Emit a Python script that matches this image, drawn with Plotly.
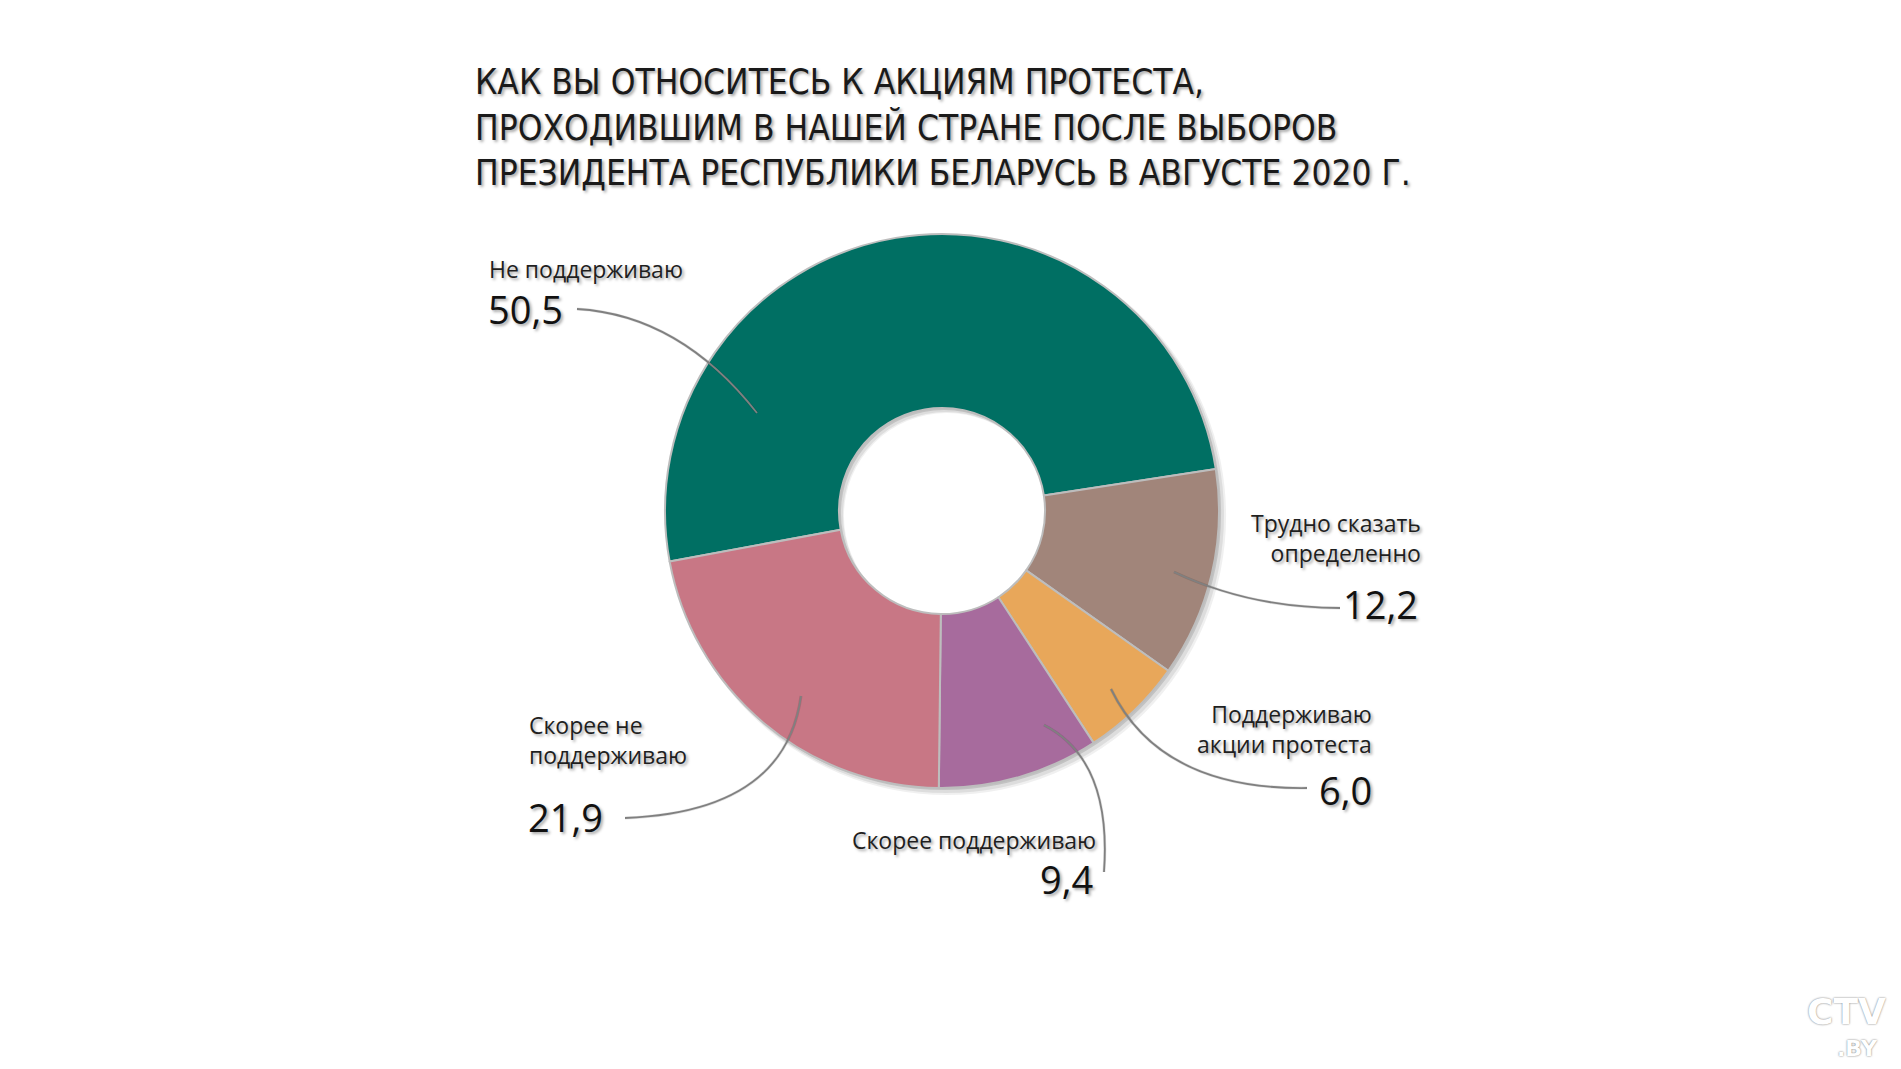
import plotly.graph_objects as go

W, H = 1901, 1069

# ---- data ----
categories = ["Не поддерживаю", "Трудно сказать<br>определенно", "Поддерживаю<br>акции протеста",
              "Скорее поддерживаю", "Скорее не<br>поддерживаю"]
values = [50.5, 12.2, 6.0, 9.4, 21.9]
value_labels = ["50,5", "12,2", "6,0", "9,4", "21,9"]
colors = ["#006f63", "#a1857a", "#e8a75a", "#a76b9d", "#c87785"]
title_lines = ["КАК ВЫ ОТНОСИТЕСЬ К АКЦИЯМ ПРОТЕСТА,",
               "ПРОХОДИВШИМ В НАШЕЙ СТРАНЕ ПОСЛЕ ВЫБОРОВ",
               "ПРЕЗИДЕНТА РЕСПУБЛИКИ БЕЛАРУСЬ В АВГУСТЕ 2020 Г."]

# ---- layout helpers (pixel -> paper) ----
def px(x):
    return x / W

def py(y):
    return 1 - y / H

CX, CY, R = 942, 511, 277
HOLE = 0.372

def dom(cx, cy, r):
    return dict(x=[px(cx - r), px(cx + r)], y=[py(cy + r), py(cy - r)])

fig = go.Figure()

# soft shadow layers under the ring
for off, extra, alpha in [(5, 2, 0.06), (4, 1, 0.08), (2, 0, 0.12)]:
    fig.add_trace(go.Pie(values=[1], hole=HOLE * R / (R + extra), sort=False,
                         marker=dict(colors=[f"rgba(0,0,0,{alpha})"], line=dict(width=0)),
                         textinfo="none", hoverinfo="skip", showlegend=False,
                         domain=dom(CX + off, CY + off, R + extra)))

fig.add_trace(go.Pie(
    labels=categories, values=values, hole=HOLE, sort=False,
    direction="clockwise", rotation=259.5,
    marker=dict(colors=colors, line=dict(color="#bdbdbd", width=2)),
    textinfo="none", hoverinfo="label+value", showlegend=False,
    domain=dom(CX, CY, R)))

SHADOW = "2px 2px 3px rgba(0,0,0,0.35)"
ann = []
for i, line in enumerate(title_lines):
    ann.append(dict(x=px(473), y=py(82 + i * 45.5), text=line, showarrow=False,
                    xanchor="left", yanchor="middle", xref="paper", yref="paper",
                    font=dict(family="DejaVu Sans Condensed, Roboto, sans-serif", size=35,
                              color="#1a1a1a", shadow=SHADOW)))

LBL = dict(family="Open Sans", size=23, color="#1f1f1f", shadow=SHADOW)
NUM = dict(family="Open Sans", size=38, color="#111111", shadow=SHADOW)

# (text, x, y, anchor, font)
label_specs = [
    (categories[0], 487, 269, "left", LBL),
    (value_labels[0], 486, 309, "left", NUM),
    (categories[1], 1423, 538, "right", LBL),
    (value_labels[1], 1420, 604, "right", NUM),
    (categories[2], 1374, 729, "right", LBL),
    (value_labels[2], 1374, 790, "right", NUM),
    (categories[3], 1098, 840, "right", LBL),
    (value_labels[3], 1095, 879, "right", NUM),
    (categories[4], 527, 740, "left", LBL),
    (value_labels[4], 526, 817, "left", NUM),
]
for text, x, y, anc, f in label_specs:
    ann.append(dict(x=px(x), y=py(y), text=text, showarrow=False, xanchor=anc,
                    yanchor="middle", align=anc, xref="paper", yref="paper", font=f))

# logo
ann.append(dict(x=px(1846), y=py(1011), text="<b>CTV</b>", showarrow=False, xanchor="center",
                yanchor="middle", xref="paper", yref="paper",
                font=dict(family="DejaVu Sans", size=36, color="#ffffff",
                          shadow="0px 0px 2px rgba(0,0,0,0.6)")))
ann.append(dict(x=px(1880), y=py(1048), text="<b>.BY</b>", showarrow=False, xanchor="right",
                yanchor="middle", xref="paper", yref="paper",
                font=dict(family="DejaVu Sans", size=22, color="#ffffff",
                          shadow="0px 0px 2px rgba(0,0,0,0.6)")))

# leader curves: start, control, end (pixels)
leaders = [
    ((577, 309), (680, 315), (757, 413)),
    ((1340, 608), (1250, 608), (1174, 572)),
    ((1307, 788), (1160, 790), (1111, 689)),
    ((1104, 872), (1112, 760), (1044, 725)),
    ((625, 818), (785, 812), (801, 696)),
]
shapes = []
for (a, c, b) in leaders:
    path = f"M {px(a[0])},{py(a[1])} Q {px(c[0])},{py(c[1])} {px(b[0])},{py(b[1])}"
    shapes.append(dict(type="path", path=path, xref="paper", yref="paper",
                       line=dict(color="rgba(0,0,0,0.12)", width=3)))
    shapes.append(dict(type="path", path=path, xref="paper", yref="paper",
                       line=dict(color="#808080", width=1.8)))

fig.update_layout(width=W, height=H, margin=dict(l=0, r=0, t=0, b=0),
                  paper_bgcolor="#ffffff", plot_bgcolor="#ffffff",
                  annotations=ann, shapes=shapes, showlegend=False)

fig.write_html("out.html")
